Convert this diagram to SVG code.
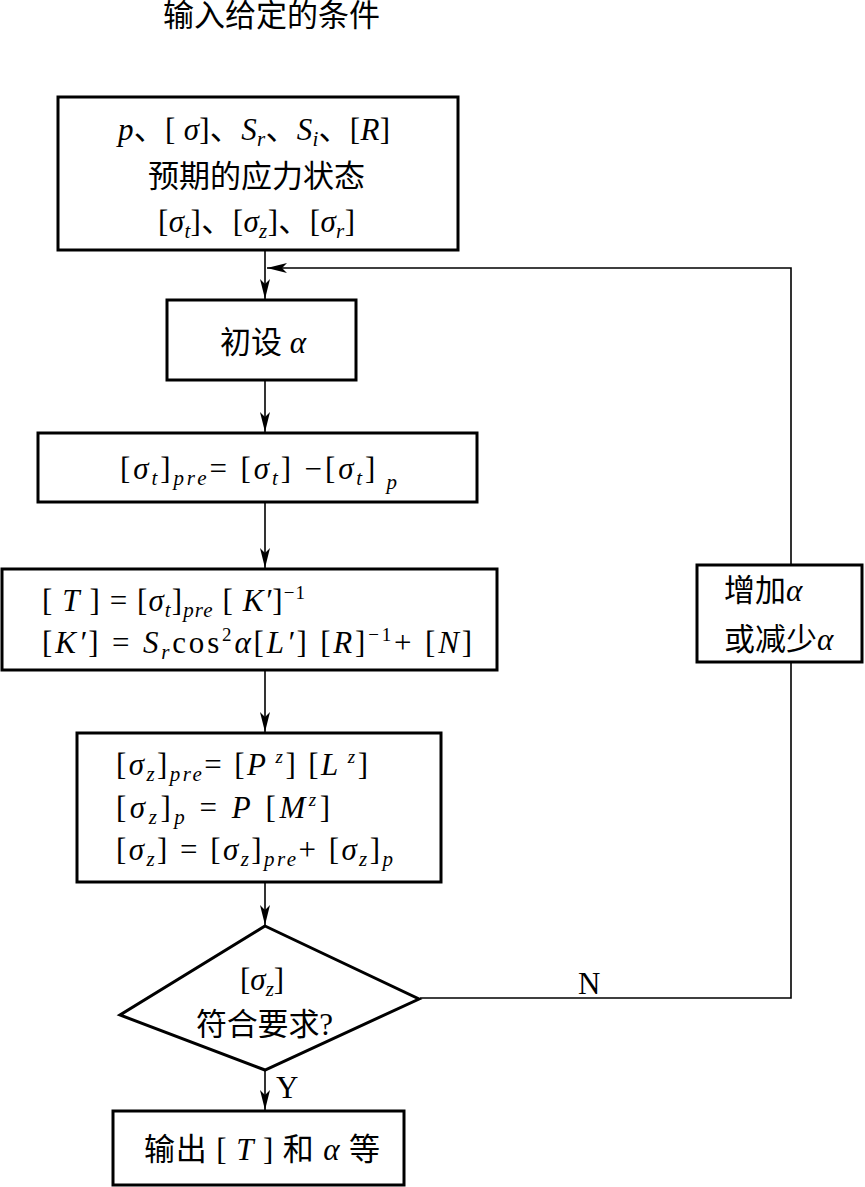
<svg xmlns="http://www.w3.org/2000/svg" width="865" height="1187" viewBox="0 0 865 1187">
<defs>
<style>
.b{fill:#fff;stroke:#000;stroke-width:3}
.c{fill:none;stroke:#000;stroke-width:1.6}
text{font-family:"Liberation Serif","Noto Sans CJK SC",serif;font-size:31px;fill:#000}
.i{font-style:italic}
.s{font-size:21px;font-style:italic}
.u{font-size:19px}
</style>
<marker id="a" viewBox="0 0 20 10" refX="20" refY="5" markerWidth="20" markerHeight="10" markerUnits="userSpaceOnUse" orient="auto"><path d="M0,0 L20,5 L0,10 L5,5 Z" fill="#000"/></marker>
</defs>
<text x="163" y="26" textLength="217" lengthAdjust="spacingAndGlyphs">输入给定的条件</text>
<g id="connectors">
<line class="c" x1="265" y1="250" x2="265" y2="299" marker-end="url(#a)"/>
<line class="c" x1="265" y1="380" x2="265" y2="432" marker-end="url(#a)"/>
<line class="c" x1="265" y1="502" x2="265" y2="568" marker-end="url(#a)"/>
<line class="c" x1="265" y1="670" x2="265" y2="732" marker-end="url(#a)"/>
<line class="c" x1="265" y1="882" x2="265" y2="925" marker-end="url(#a)"/>
<line class="c" x1="265" y1="1070" x2="265" y2="1110" marker-end="url(#a)"/>
<polyline class="c" points="420,998 791,998 791,662"/>
<polyline class="c" points="791,565 791,268 267,268" marker-end="url(#a)"/>
<text x="578" y="994" font-size="25">N</text>
<text x="276" y="1098" font-size="25">Y</text>
</g>
<g id="n1">
<rect class="b" x="58" y="97" width="400" height="153"/>
<text x="118" y="140" textLength="272" lengthAdjust="spacing"><tspan class="i">p</tspan>、[ <tspan class="i">σ</tspan>]、<tspan class="i">S</tspan><tspan class="s" dy="6">r</tspan><tspan dy="-6">、</tspan><tspan class="i">S</tspan><tspan class="s" dy="6">i</tspan><tspan dy="-6">、[</tspan><tspan class="i">R</tspan>]</text>
<text x="148" y="187">预期的应力状态</text>
<text x="158" y="232" textLength="197" lengthAdjust="spacing">[<tspan class="i">σ</tspan><tspan class="s" dy="6">t</tspan><tspan dy="-6">]、[</tspan><tspan class="i">σ</tspan><tspan class="s" dy="6">z</tspan><tspan dy="-6">]、[</tspan><tspan class="i">σ</tspan><tspan class="s" dy="6">r</tspan><tspan dy="-6">]</tspan></text>
</g>
<g id="n2">
<rect class="b" x="167" y="300" width="189" height="80"/>
<text x="220" y="353">初设 <tspan class="i">α</tspan></text>
</g>
<g id="n3">
<rect class="b" x="38" y="433" width="439" height="69"/>
<text x="120" y="479" textLength="277" lengthAdjust="spacing">[<tspan class="i">σ</tspan><tspan class="s" dy="6">t</tspan><tspan dy="-6">]</tspan><tspan class="s" dy="6">pre</tspan><tspan dy="-6">= [</tspan><tspan class="i">σ</tspan><tspan class="s" dy="6">t</tspan><tspan dy="-6">] −[</tspan><tspan class="i">σ</tspan><tspan class="s" dy="6">t</tspan><tspan dy="-6">]</tspan><tspan class="s" dy="10"> p</tspan></text>
</g>
<g id="n4">
<rect class="b" x="2" y="569" width="495" height="101"/>
<text x="42" y="611" textLength="263" lengthAdjust="spacing">[ <tspan class="i">T</tspan> ] = [<tspan class="i">σ</tspan><tspan class="s" dy="6">t</tspan><tspan dy="-6">]</tspan><tspan class="s" dy="6">pre</tspan><tspan dy="-6"> [ </tspan><tspan class="i">K′</tspan>]<tspan class="u" dy="-12">−1</tspan></text>
<text x="42" y="653" textLength="430" lengthAdjust="spacing">[<tspan class="i">K′</tspan>] = <tspan class="i">S</tspan><tspan class="s" dy="6">r</tspan><tspan dy="-6">cos</tspan><tspan class="u" dy="-12">2</tspan><tspan class="i" dy="12">α</tspan>[<tspan class="i">L′</tspan>]  [<tspan class="i">R</tspan>]<tspan class="u" dy="-12">−1</tspan><tspan dy="12">+ [</tspan><tspan class="i">N</tspan>]</text>
</g>
<g id="n5">
<rect class="b" x="77" y="733" width="364" height="149"/>
<text x="116" y="775" textLength="252" lengthAdjust="spacing">[<tspan class="i">σ</tspan><tspan class="s" dy="6">z</tspan><tspan dy="-6">]</tspan><tspan class="s" dy="6">pre</tspan><tspan dy="-6">=  [</tspan><tspan class="i">P</tspan><tspan class="u i" dy="-12"> z</tspan><tspan dy="12">]  [</tspan><tspan class="i">L</tspan><tspan class="u i" dy="-12"> z</tspan><tspan dy="12">]</tspan></text>
<text x="116" y="818" textLength="214" lengthAdjust="spacing">[<tspan class="i">σ</tspan><tspan class="s" dy="6">z</tspan><tspan dy="-6">]</tspan><tspan class="s" dy="6">p</tspan><tspan dy="-6"> =  </tspan><tspan class="i">P</tspan> [<tspan class="i">M</tspan><tspan class="u i" dy="-12">z</tspan><tspan dy="12">]</tspan></text>
<text x="116" y="860" textLength="277" lengthAdjust="spacing">[<tspan class="i">σ</tspan><tspan class="s" dy="6">z</tspan><tspan dy="-6">] = [</tspan><tspan class="i">σ</tspan><tspan class="s" dy="6">z</tspan><tspan dy="-6">]</tspan><tspan class="s" dy="6">pre</tspan><tspan dy="-6">+ [</tspan><tspan class="i">σ</tspan><tspan class="s" dy="6">z</tspan><tspan dy="-6">]</tspan><tspan class="s" dy="6">p</tspan></text>
</g>
<g id="n6">
<polygon class="b" points="265,926 419,999 265,1070 120,1015"/>
<text x="240" y="990">[<tspan class="i">σ</tspan><tspan class="s" dy="6">z</tspan><tspan dy="-6">]</tspan></text>
<text x="196" y="1035" textLength="137" lengthAdjust="spacing">符合要求?</text>
</g>
<g id="n7">
<rect class="b" x="113" y="1111" width="291" height="74"/>
<text x="144" y="1160" textLength="236" lengthAdjust="spacing">输出 [ <tspan class="i">T</tspan> ]  和 <tspan class="i">α</tspan> 等</text>
</g>
<g id="n8">
<rect class="b" x="697" y="565" width="165" height="97"/>
<text x="724" y="601">增加<tspan class="i">α</tspan></text>
<text x="724" y="650">或减少<tspan class="i">α</tspan></text>
</g>
</svg>
